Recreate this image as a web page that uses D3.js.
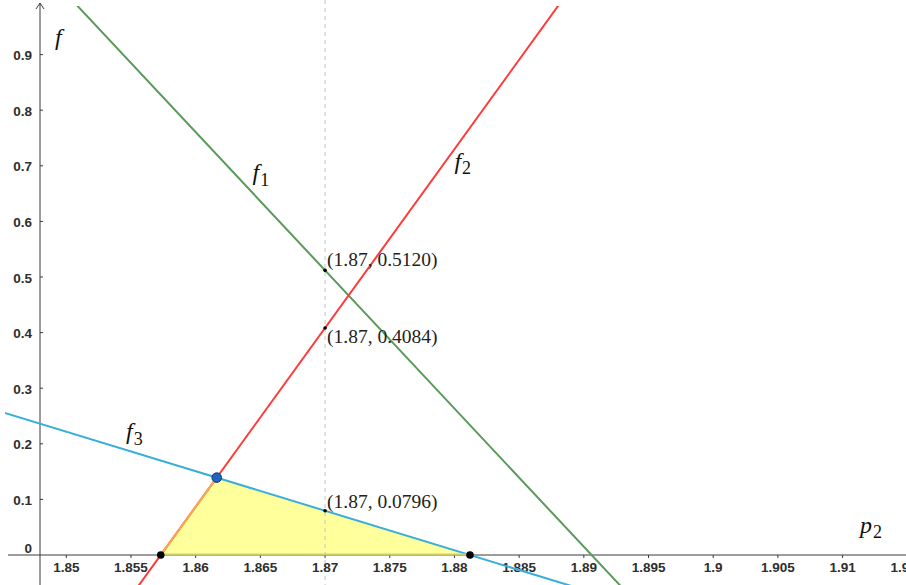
<!DOCTYPE html>
<html>
<head>
<meta charset="utf-8">
<script src="https://cdn.jsdelivr.net/npm/d3@7"></script>
<style>
  html, body { margin: 0; padding: 0; background: #fff; }
  svg { display: block; }
</style>
</head>
<body>
<svg id="chart" width="906" height="585"></svg>
<script>
// Tick values on both axes
const xTicks = [1.85, 1.855, 1.86, 1.865, 1.87, 1.875, 1.88, 1.885, 1.89, 1.895, 1.9, 1.905, 1.91, 1.915];
const yTicks = [0, 0.1, 0.2, 0.3, 0.4, 0.5, 0.6, 0.7, 0.8, 0.9];

// Each constraint line is given by two points it passes through (p2, f)
const lineNames = ["f1", "f2", "f3"];
const lineColors = ["#5a9a5a", "#ff3a3a", "#38afd9"];
const lineA = [[1.87, 0.5120], [1.8573, 0], [1.87, 0.0796]];
const lineB = [[1.8906, 0], [1.87, 0.4084], [1.8812, 0]];

// Evaluated points on the vertical p2 = 1.87
const evalP = 1.87;
const evalF = [0.5120, 0.4084, 0.0796];
const evalText = ["(1.87, 0.5120)", "(1.87, 0.4084)", "(1.87, 0.0796)"];

// Label anchors for the lines (p2, f)
const nameAt = [[1.8644, 0.674], [1.8800, 0.694], [1.85462, 0.208]];

const W = 906, H = 585;
const svg = d3.select("#chart");

const x = d3.scaleLinear().domain([1.85, 1.91]).range([66.3, 842.6]);
const y = d3.scaleLinear().domain([0, 0.9]).range([555, 54.6]);
const axisX = 40;            // pixel position of the vertical axis
const y0 = y(0);

// line helpers
const slopeOf = i => (lineB[i][1] - lineA[i][1]) / (lineB[i][0] - lineA[i][0]);
const valAt = (i, p) => lineA[i][1] + slopeOf(i) * (p - lineA[i][0]);
const rootOf = i => lineA[i][0] - lineA[i][1] / slopeOf(i);

// feasible region: bounded by f2 (left), f3 (top) and the p2 axis
const pLeft = rootOf(1), pRight = rootOf(2);
const pCross = (lineA[2][1] - slopeOf(2) * lineA[2][0] - (lineA[1][1] - slopeOf(1) * lineA[1][0])) / (slopeOf(1) - slopeOf(2));
const fCross = valAt(1, pCross);
const region = [[pLeft, 0], [pCross, fCross], [pRight, 0]];

// clip region for the plotted lines
svg.append("defs").append("clipPath").attr("id", "view")
  .append("rect").attr("x", 5).attr("y", 6).attr("width", W - 5).attr("height", H - 6);

// region fill
svg.append("path")
  .attr("d", d3.line().x(d => x(d[0])).y(d => y(d[1]))(region) + "Z")
  .attr("fill", "#ffff9c")
  .attr("stroke", "none");

// dashed guide at p2 = 1.87
svg.append("line")
  .attr("x1", x(evalP)).attr("x2", x(evalP))
  .attr("y1", 0).attr("y2", H)
  .attr("stroke", "#c4c4c4").attr("stroke-width", 1)
  .attr("stroke-dasharray", "4,4");

// axes
const axisColor = "#3a3a3a";
svg.append("line").attr("x1", 8).attr("x2", W).attr("y1", y0).attr("y2", y0)
  .attr("stroke", axisColor).attr("stroke-width", 1);
svg.append("line").attr("x1", axisX).attr("x2", axisX).attr("y1", 3).attr("y2", H)
  .attr("stroke", axisColor).attr("stroke-width", 1);
svg.append("path")
  .attr("d", `M${axisX - 4},${9} L${axisX},${3} L${axisX + 4},${9}`)
  .attr("fill", "none").attr("stroke", axisColor).attr("stroke-width", 1);

const tickFont = "'Liberation Sans', Arial, sans-serif";
const gx = svg.append("g");
gx.selectAll("line").data(xTicks).join("line")
  .attr("x1", d => x(d)).attr("x2", d => x(d))
  .attr("y1", y0).attr("y2", y0 + 3)
  .attr("stroke", axisColor);
gx.selectAll("text").data(xTicks).join("text")
  .attr("x", d => x(d)).attr("y", y0 + 16.5)
  .attr("text-anchor", "middle")
  .attr("font-family", tickFont).attr("font-weight", "bold").attr("font-size", 13.5)
  .attr("fill", "#2e2e2e")
  .text(d => d3.format("")(d));

const gy = svg.append("g");
gy.selectAll("line").data(yTicks.filter(d => d > 0)).join("line")
  .attr("x1", axisX).attr("x2", axisX + 3)
  .attr("y1", d => y(d)).attr("y2", d => y(d))
  .attr("stroke", axisColor);
gy.selectAll("text").data(yTicks).join("text")
  .attr("x", 32)
  .attr("y", d => d === 0 ? y(d) - 2 : y(d) + 5.5)
  .attr("text-anchor", "end")
  .attr("font-family", tickFont).attr("font-weight", "bold").attr("font-size", 13.5)
  .attr("fill", "#2e2e2e")
  .text(d => d3.format("")(d));

// constraint lines across the visible range
const pMin = x.invert(0), pMax = x.invert(W);
const lines = svg.append("g").attr("clip-path", "url(#view)");
lineNames.forEach((n, i) => {
  lines.append("line")
    .attr("x1", x(pMin)).attr("y1", y(valAt(i, pMin)))
    .attr("x2", x(pMax)).attr("y2", y(valAt(i, pMax)))
    .attr("stroke", lineColors[i]).attr("stroke-width", 2)
    .attr("stroke-linecap", "round");
});

// region edges
svg.append("line")
  .attr("x1", x(region[0][0])).attr("y1", y(region[0][1]))
  .attr("x2", x(region[1][0])).attr("y2", y(region[1][1]))
  .attr("stroke", "#f7a94e").attr("stroke-width", 2);
svg.append("line")
  .attr("x1", x(region[0][0])).attr("y1", y(0) - 0.5)
  .attr("x2", x(region[2][0])).attr("y2", y(0) - 0.5)
  .attr("stroke", "#cfcf6a").attr("stroke-width", 2);

// evaluated points and their labels
const serif = "'Liberation Serif', 'DejaVu Serif', serif";
evalF.forEach((v, i) => {
  svg.append("circle").attr("cx", x(evalP)).attr("cy", y(v)).attr("r", 1.8).attr("fill", "#000");
});
const labelDy = [-4, 15, -3];
svg.selectAll("text.ev").data(evalF).join("text").attr("class", "ev")
  .attr("x", x(evalP) + 2)
  .attr("y", (d, i) => y(d) + labelDy[i])
  .attr("font-family", serif).attr("font-size", 19.5).attr("fill", "#222")
  .text((d, i) => evalText[i]);

// axis roots and the corner point
[pLeft, pRight].forEach(p => {
  svg.append("circle").attr("cx", x(p)).attr("cy", y0).attr("r", 3.8).attr("fill", "#000");
});
svg.append("circle").attr("cx", x(pCross)).attr("cy", y(fCross)).attr("r", 4.8)
  .attr("fill", "#1f66c1").attr("stroke", "#16356a").attr("stroke-width", 1);

// math-style labels
function mathLabel(px, py, base, sub, size) {
  const t = svg.append("text").attr("x", px).attr("y", py)
    .attr("font-family", serif).attr("font-size", size).attr("fill", "#111");
  t.append("tspan").attr("font-style", "italic").text(base);
  if (sub) t.append("tspan").attr("dx", 1).attr("dy", size * 0.22)
    .attr("font-size", size * 0.75).text(sub);
}
lineNames.forEach((n, i) => {
  mathLabel(x(nameAt[i][0]), y(nameAt[i][1]), "f", n.slice(1), 24);
});
mathLabel(55, 45, "f", "", 24);
mathLabel(860, 533, "p", "2", 24);
</script>
</body>
</html>
